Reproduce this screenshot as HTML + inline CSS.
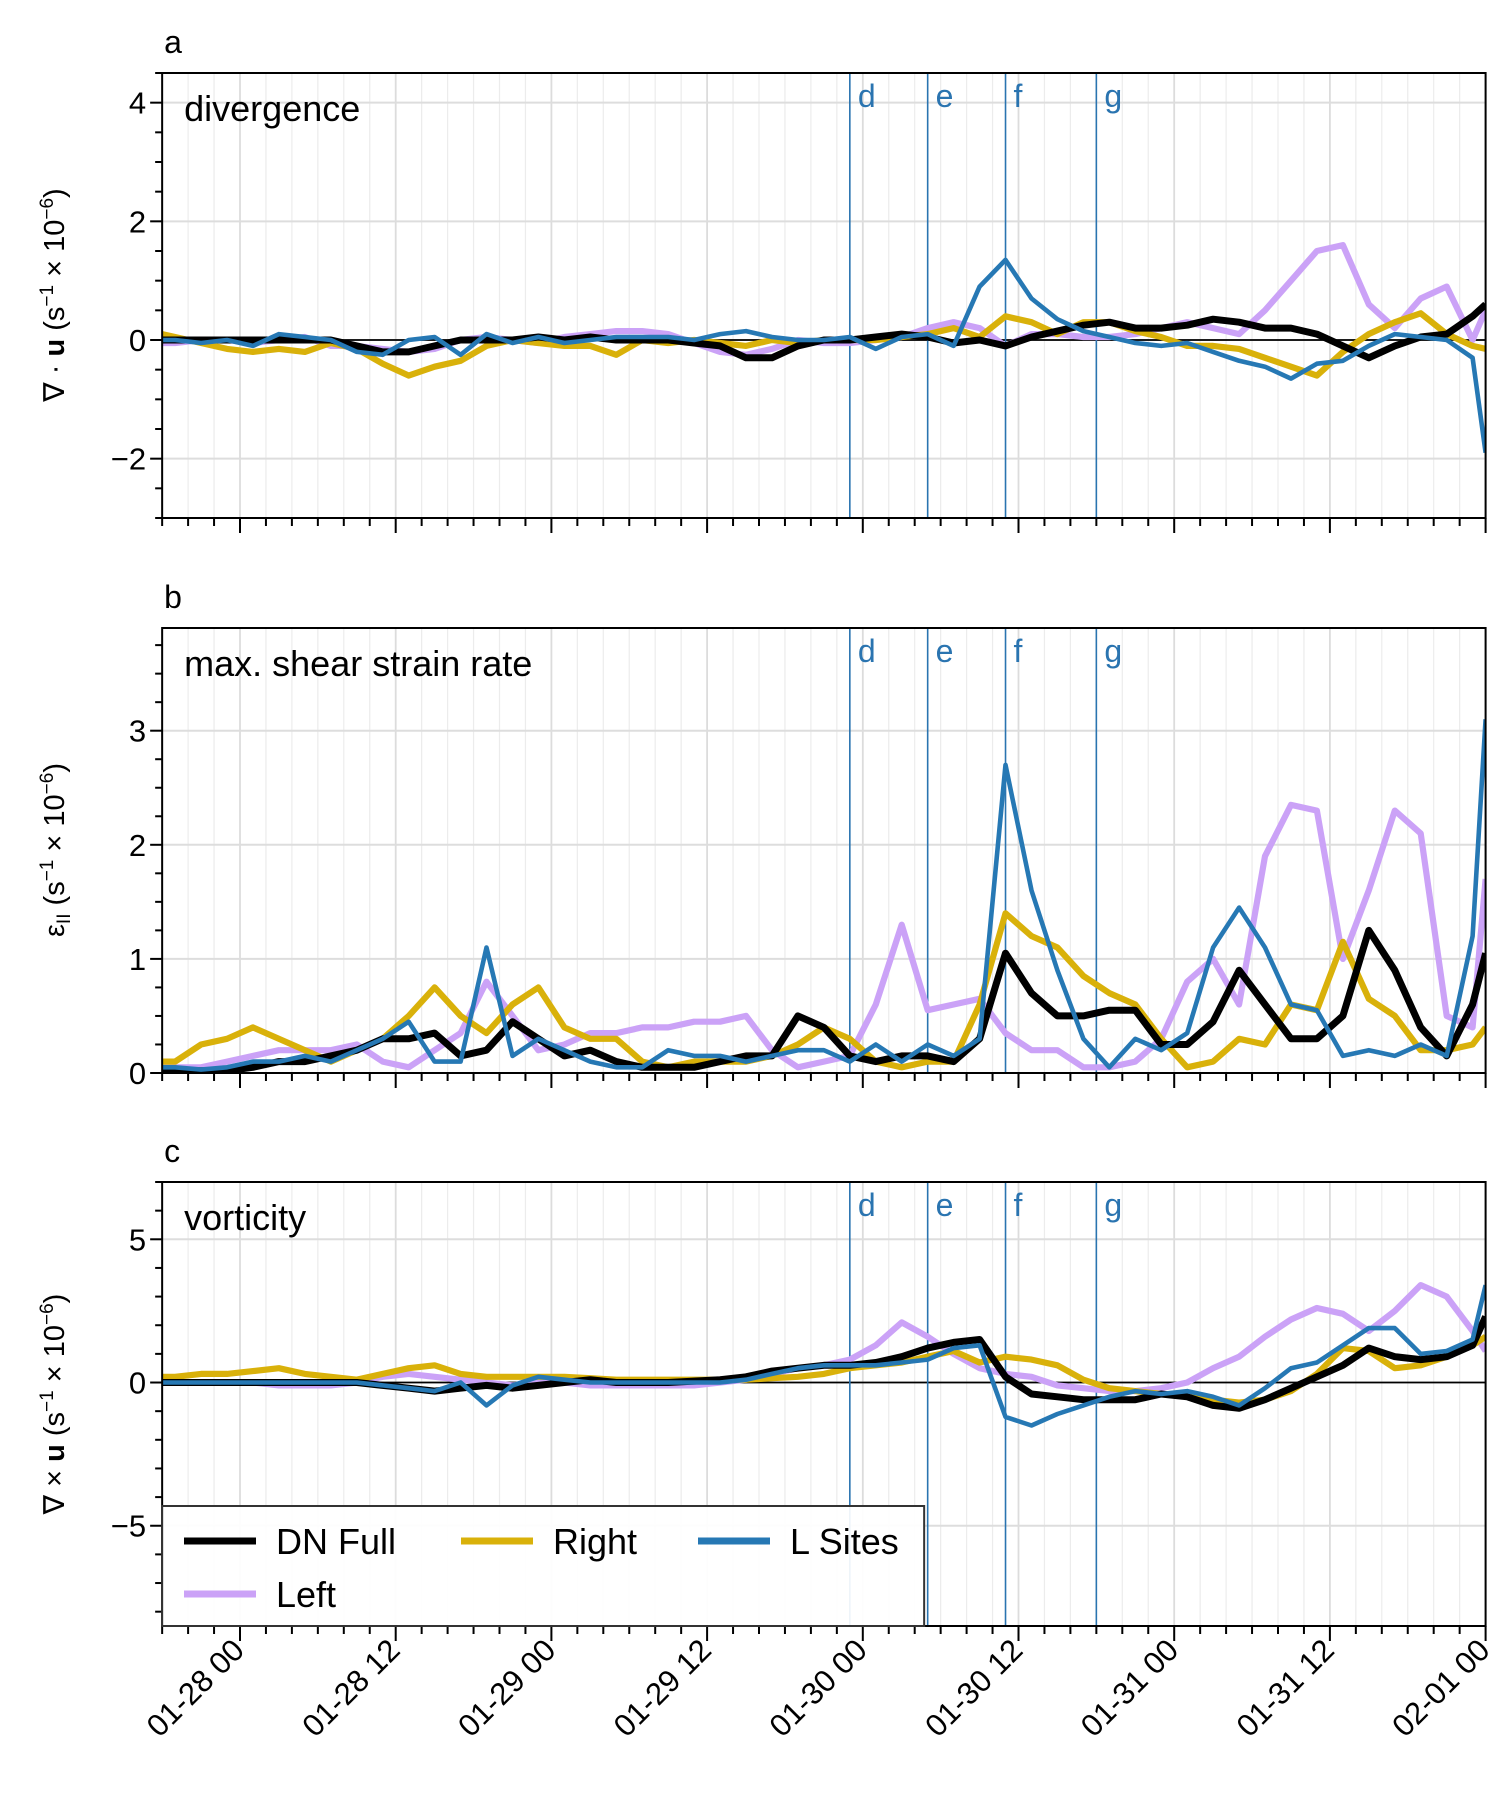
<!DOCTYPE html>
<html><head><meta charset="utf-8">
<style>
html,body{margin:0;padding:0;background:#fff;}
svg{display:block;font-family:"Liberation Sans",Arial,sans-serif;}
</style></head>
<body>
<svg id="chart" width="1500" height="1800" viewBox="0 0 1500 1800" xmlns="http://www.w3.org/2000/svg"></svg>
<script>
const hours = [-6,-5,-3,-1,1,3,5,7,9,11,13,15,17,19,21,23,25,27,29,31,33,35,37,39,41,43,45,47,49,51,53,55,57,59,61,63,65,67,69,71,73,75,77,79,81,83,85,87,89,91,93,95,96];
const xTickHours = [0,12,24,36,48,60,72,84,96];
const xTickLabels = ["01-28 00","01-28 12","01-29 00","01-29 12","01-30 00","01-30 12","01-31 00","01-31 12","02-01 00"];
const eventHours = [47,53,59,66];
const eventLabels = ["d","e","f","g"];
const seriesNames = ["DN Full","Right","L Sites","Left"];

// Panel a: divergence
const divBlack = [0,0,0,0,0,0,0,0,-0.1,-0.2,-0.2,-0.1,0,0,0,0.05,0,0.05,0,0,0,-0.05,-0.1,-0.3,-0.3,-0.1,0,0,0.05,0.1,0.05,-0.05,0,-0.1,0.05,0.15,0.25,0.3,0.2,0.2,0.25,0.35,0.3,0.2,0.2,0.1,-0.1,-0.3,-0.1,0.05,0.1,0.4,0.6];
const divRight = [0.1,0.05,-0.05,-0.15,-0.2,-0.15,-0.2,-0.05,-0.15,-0.4,-0.6,-0.45,-0.35,-0.1,0,-0.05,-0.1,-0.1,-0.25,0,-0.05,0,-0.05,-0.1,0,-0.05,0,0,0,0.05,0.1,0.2,0.05,0.4,0.3,0.1,0.3,0.3,0.15,0.05,-0.1,-0.1,-0.15,-0.3,-0.45,-0.6,-0.2,0.1,0.3,0.45,0.1,-0.1,-0.15];
const divLeft = [-0.05,-0.05,0,0,-0.05,0,0.05,-0.1,-0.1,-0.15,-0.2,-0.15,0,0.05,0,-0.05,0.05,0.1,0.15,0.15,0.1,-0.05,-0.2,-0.25,-0.15,0,-0.05,-0.05,0,0.05,0.2,0.3,0.2,-0.1,0.1,0.1,0.05,0.05,0.1,0.2,0.3,0.2,0.1,0.5,1.0,1.5,1.6,0.6,0.2,0.7,0.9,0,0.5];
const divLSites = [0,0,-0.05,0,-0.1,0.1,0.05,0,-0.2,-0.25,0,0.05,-0.25,0.1,-0.05,0.05,-0.05,0,0.05,0.05,0.05,0,0.1,0.15,0.05,0,0,0.05,-0.15,0.05,0.1,-0.1,0.9,1.35,0.7,0.35,0.15,0.05,-0.05,-0.1,-0.05,-0.2,-0.35,-0.45,-0.65,-0.4,-0.35,-0.1,0.1,0.05,0,-0.3,-1.9];

// Panel b: max shear strain rate
const shearBlack = [0.02,0.02,0.02,0.02,0.05,0.1,0.1,0.15,0.2,0.3,0.3,0.35,0.15,0.2,0.45,0.3,0.15,0.2,0.1,0.05,0.05,0.05,0.1,0.15,0.15,0.5,0.4,0.15,0.1,0.15,0.15,0.1,0.3,1.05,0.7,0.5,0.5,0.55,0.55,0.25,0.25,0.45,0.9,0.6,0.3,0.3,0.5,1.25,0.9,0.4,0.15,0.6,1.05];
const shearRight = [0.1,0.1,0.25,0.3,0.4,0.3,0.2,0.1,0.2,0.3,0.5,0.75,0.5,0.35,0.6,0.75,0.4,0.3,0.3,0.1,0.05,0.1,0.1,0.1,0.15,0.25,0.4,0.3,0.1,0.05,0.1,0.1,0.6,1.4,1.2,1.1,0.85,0.7,0.6,0.3,0.05,0.1,0.3,0.25,0.6,0.55,1.15,0.65,0.5,0.2,0.2,0.25,0.4];
const shearLeft = [0.05,0.05,0.05,0.1,0.15,0.2,0.2,0.2,0.25,0.1,0.05,0.2,0.35,0.8,0.5,0.2,0.25,0.35,0.35,0.4,0.4,0.45,0.45,0.5,0.2,0.05,0.1,0.15,0.6,1.3,0.55,0.6,0.65,0.35,0.2,0.2,0.05,0.05,0.1,0.3,0.8,1.0,0.6,1.9,2.35,2.3,1.0,1.6,2.3,2.1,0.5,0.4,1.7];
const shearLSites = [0.05,0.05,0.03,0.05,0.1,0.1,0.15,0.1,0.2,0.3,0.45,0.1,0.1,1.1,0.15,0.3,0.2,0.1,0.05,0.05,0.2,0.15,0.15,0.1,0.15,0.2,0.2,0.1,0.25,0.1,0.25,0.15,0.3,2.7,1.6,0.9,0.3,0.05,0.3,0.2,0.35,1.1,1.45,1.1,0.6,0.55,0.15,0.2,0.15,0.25,0.15,1.2,3.1];

// Panel c: vorticity
const vortBlack = [0,0,0,0,0,0,0,0,0,-0.1,-0.2,-0.3,-0.2,-0.1,-0.2,-0.1,0,0.1,0,0,0,0.05,0.1,0.2,0.4,0.5,0.6,0.6,0.7,0.9,1.2,1.4,1.5,0.2,-0.4,-0.5,-0.6,-0.6,-0.6,-0.4,-0.5,-0.8,-0.9,-0.6,-0.2,0.2,0.6,1.2,0.9,0.8,0.9,1.3,2.3];
const vortRight = [0.2,0.2,0.3,0.3,0.4,0.5,0.3,0.2,0.1,0.3,0.5,0.6,0.3,0.2,0.2,0.2,0.2,0.15,0.1,0.1,0.1,0.1,0.1,0.1,0.15,0.2,0.3,0.5,0.6,0.7,0.9,1.1,0.7,0.9,0.8,0.6,0.1,-0.2,-0.3,-0.4,-0.5,-0.6,-0.7,-0.6,-0.3,0.3,1.2,1.1,0.5,0.6,0.9,1.3,1.6];
const vortLeft = [0,0,0,0,0,-0.1,-0.1,-0.1,0,0.2,0.3,0.2,0.1,0,-0.1,0,0,-0.1,-0.1,-0.1,-0.1,-0.1,0,0.1,0.3,0.5,0.6,0.8,1.3,2.1,1.6,1.0,0.5,0.3,0.2,-0.1,-0.2,-0.3,-0.3,-0.2,0,0.5,0.9,1.6,2.2,2.6,2.4,1.8,2.5,3.4,3.0,1.8,1.1];
const vortLSites = [0,0,0,0,0,0,0,0,0,-0.1,-0.2,-0.3,0,-0.8,-0.1,0.2,0.1,0,0,0,0,0,0,0.1,0.3,0.5,0.6,0.6,0.6,0.7,0.8,1.2,1.3,-1.2,-1.5,-1.1,-0.8,-0.5,-0.3,-0.4,-0.3,-0.5,-0.8,-0.2,0.5,0.7,1.3,1.9,1.9,1.0,1.1,1.5,3.4];

const yTicksA = [-2,0,2,4];
const yTicksB = [0,1,2,3];
const yTicksC = [-5,0,5];

const NS = "http://www.w3.org/2000/svg";
const svg = document.getElementById("chart");
const X0 = 240, PXH = 12.975, H0 = -6, H1 = 96;
function xs(h){ return X0 + h*PXH; }
const LEFT = xs(H0), RIGHT = xs(H1);
const COLORS = {black:"#000000", right:"#d9b10a", left:"#cba2f7", lsites:"#2678b4"};
const EVT = "#2a74b0";

function mk(tag, attrs, parent){
  const e = document.createElementNS(NS, tag);
  for (const k in attrs) e.setAttribute(k, attrs[k]);
  (parent||svg).appendChild(e);
  return e;
}

const panels = [
  {id:"a", top:73, bottom:518, ymin:-3, ymax:4.5, ticks:yTicksA, minor:0.5, zero:true, title:"divergence",
   series:[divLeft,divRight,divBlack,divLSites]},
  {id:"b", top:628, bottom:1073, ymin:0, ymax:3.9, ticks:yTicksB, minor:0.25, zero:false, title:"max. shear strain rate",
   series:[shearLeft,shearRight,shearBlack,shearLSites]},
  {id:"c", top:1182, bottom:1626, ymin:-8.5, ymax:7, ticks:yTicksC, minor:1, zero:true, title:"vorticity",
   series:[vortLeft,vortRight,vortBlack,vortLSites]}
];
const seriesStyle = [
  {name:"left-line", color:COLORS.left, w:6.2},
  {name:"right-line", color:COLORS.right, w:6.2},
  {name:"dn-full-line", color:COLORS.black, w:7},
  {name:"l-sites-line", color:COLORS.lsites, w:4.6}
];

panels.forEach(p => {
  const ys = v => p.bottom - (v - p.ymin) / (p.ymax - p.ymin) * (p.bottom - p.top);
  const g = mk("g", {});
  
  
  for (let h = H0; h <= H1; h += 2) {
    const major = (h % 12 === 0);
    const ln = mk("line", {x1:xs(h), x2:xs(h), y1:p.top, y2:p.bottom, stroke: major ? "#dcdcdc" : "#ececec", "stroke-width": major ? 1.8 : 1.2}, g);
    
    
  }
  p.ticks.forEach(t => {
    const ln = mk("line", {x1:LEFT, x2:RIGHT, y1:ys(t), y2:ys(t), stroke:"#dddddd", "stroke-width":2}, g);
    
    
  });
  if (p.zero) {
    const z = mk("line", {x1:LEFT, x2:RIGHT, y1:ys(0), y2:ys(0), stroke:"#000", "stroke-width":1.8}, g);
    
    
  }
  eventHours.forEach((h, i) => {
    const ln = mk("line", {x1:xs(h), x2:xs(h), y1:p.top, y2:p.bottom, stroke:EVT, "stroke-width":1.6}, g);
    
    
    const tx = mk("text", {x:xs(h)+8, y:p.top+34, fill:EVT, "font-size":32}, g);
    tx.textContent = eventLabels[i];
    
    
  });
  const cp = mk("clipPath", {id:"clip" + p.id}, g);
  mk("rect", {x:LEFT, y:p.top, width:RIGHT-LEFT, height:p.bottom-p.top}, cp);
  p.series.forEach((arr, si) => {
    const st = seriesStyle[si];
    const d = arr.map((v, i) => (i ? "L" : "M") + xs(hours[i]).toFixed(1) + "," + ys(v).toFixed(1)).join(" ");
    const path = mk("path", {d:d, fill:"none", stroke:st.color, "stroke-width":st.w, "stroke-linejoin":"round", "clip-path":"url(#clip"+p.id+")"}, g);
    
    
  });
  const fr = mk("rect", {x:LEFT, y:p.top, width:RIGHT-LEFT, height:p.bottom-p.top, fill:"none", stroke:"#000", "stroke-width":2}, g);
  
  
  for (let v = Math.ceil(p.ymin / p.minor) * p.minor; v <= p.ymax + 1e-9; v += p.minor) {
    const isMajor = p.ticks.some(t => Math.abs(t - v) < 1e-6);
    mk("line", {x1:LEFT, x2:LEFT - (isMajor ? 12 : 7), y1:ys(v), y2:ys(v), stroke:"#000", "stroke-width":2}, g);
  }
  p.ticks.forEach(t => {
    const tx = mk("text", {x:LEFT - 16, y:ys(t) + 11, "text-anchor":"end", "font-size":31}, g);
    tx.textContent = t < 0 ? "\u2212" + Math.abs(t) : String(t);
    
    
  });
  for (let h = H0; h <= H1; h += 2) {
    const major = (h % 12 === 0);
    mk("line", {x1:xs(h), x2:xs(h), y1:p.bottom, y2:p.bottom + (major ? 15 : 8), stroke:"#000", "stroke-width":2}, g);
  }
  const pl = mk("text", {x:LEFT + 2, y:p.top - 20, "font-size":32}, g);
  pl.textContent = p.id;
  
  
  const tt = mk("text", {x:LEFT + 22, y:p.top + 48, "font-size":36}, g);
  tt.textContent = p.title;
  
  
});

function yTitle(cy, parts, name){
  const t = mk("text", {transform:"translate(64," + cy + ") rotate(-90)", "text-anchor":"middle", "font-size":29});
  
  
  parts.forEach(pt => {
    const s = mk("tspan", pt.a || {}, t);
    s.textContent = pt.t;
  });
}
yTitle(295, [{t:"\u2207 \u00b7 "},{t:"u",a:{"font-weight":"bold"}},{t:" (s"},{t:"\u22121",a:{"font-size":19,dy:-11}},{t:" \u00d7 10",a:{dy:11}},{t:"\u22126",a:{"font-size":19,dy:-11}},{t:")",a:{dy:11}}], "y-axis-title-a");
yTitle(850, [{t:"\u03b5"},{t:"II",a:{"font-size":19,dy:6}},{t:" (s",a:{dy:-6}},{t:"\u22121",a:{"font-size":19,dy:-11}},{t:" \u00d7 10",a:{dy:11}},{t:"\u22126",a:{"font-size":19,dy:-11}},{t:")",a:{dy:11}}], "y-axis-title-b");
yTitle(1404, [{t:"\u2207 \u00d7 "},{t:"u",a:{"font-weight":"bold"}},{t:" (s"},{t:"\u22121",a:{"font-size":19,dy:-11}},{t:" \u00d7 10",a:{dy:11}},{t:"\u22126",a:{"font-size":19,dy:-11}},{t:")",a:{dy:11}}], "y-axis-title-c");

xTickHours.forEach((h, i) => {
  const x = xs(h) + 6, y = 1652;
  const t = mk("text", {x:x, y:y, transform:"rotate(-45 " + x + " " + y + ")", "text-anchor":"end", "font-size":31});
  t.textContent = xTickLabels[i];
  
  
});

const lg = mk("g", {});


mk("rect", {x:LEFT, y:1506, width:762, height:1626-1506, fill:"#ffffff", "fill-opacity":0.92, stroke:"#333", "stroke-width":2}, lg);
const legendItems = [
  {label:"DN Full", color:COLORS.black, x:184, y:1541},
  {label:"Right", color:COLORS.right, x:461, y:1541},
  {label:"L Sites", color:COLORS.lsites, x:698, y:1541},
  {label:"Left", color:COLORS.left, x:184, y:1594}
];
legendItems.forEach(it => {
  const e = mk("g", {}, lg);
  
  
  mk("line", {x1:it.x, x2:it.x + 72, y1:it.y, y2:it.y, stroke:it.color, "stroke-width":7}, e);
  const t = mk("text", {x:it.x + 92, y:it.y + 13, "font-size":36}, e);
  t.textContent = it.label;
});
</script>
</body></html>
